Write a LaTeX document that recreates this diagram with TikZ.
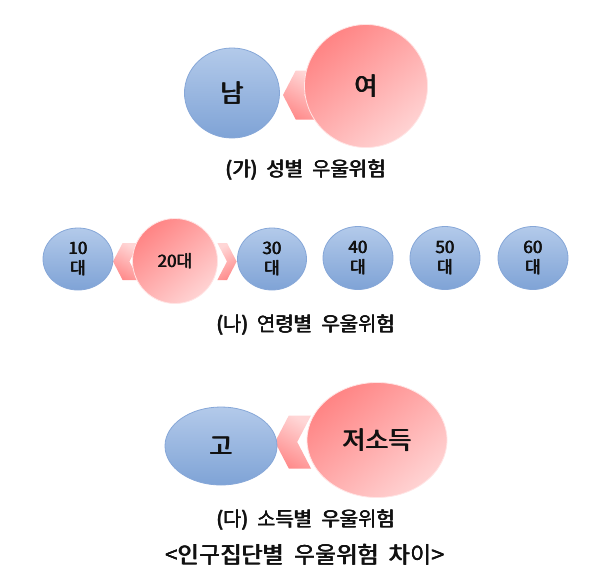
\documentclass[tikz,border=0pt]{standalone}
\usepackage{fontspec}
\newfontfamily\kr{Noto Sans CJK KR}
\newcommand{\thick}[2][0.7pt]{\leavevmode\rlap{\kern#1#2}\rlap{\kern0.5\dimexpr#1\relax\raisebox{0.35pt}{#2}}#2\kern#1}
\usetikzlibrary{shapes.geometric,shapes.symbols}
\definecolor{bluetop}{HTML}{B3CAEA}
\definecolor{bluebot}{HTML}{7FA3D6}
\definecolor{blueline}{HTML}{86A7D8}
\definecolor{reddark}{HTML}{FF8484}
\definecolor{redlight}{HTML}{FFD3D3}
\definecolor{chevlight}{HTML}{FFD6D6}
\definecolor{chevdark}{HTML}{FF8C8C}
\definecolor{txt}{HTML}{111111}
\tikzset{
  bluebub/.style={ellipse, draw=blueline, line width=0.8pt, top color=bluetop, bottom color=bluebot, inner sep=0pt, text=txt, font=\kr, align=center},
  redbub/.style={ellipse, draw=redlight!60!white, line width=0.8pt, top color=reddark, bottom color=redlight, shading angle=40, inner sep=0pt, text=txt, font=\kr, align=center},
  chevL/.style={signal, signal to=west, signal from=east, draw=none, top color=chevlight, bottom color=chevdark, shading angle=-30, inner sep=0pt},
  chevR/.style={signal, signal to=east, signal from=west, draw=none, top color=chevlight, bottom color=chevdark, shading angle=30, inner sep=0pt},
  captext/.style={text=txt, font=\kr, inner sep=0pt}
}
\begin{document}
\begin{tikzpicture}[x=1pt,y=-1pt]
\useasboundingbox[fill=white] (0,0) rectangle (604,584);
% section 1
\node[chevL, minimum width=34pt, minimum height=49pt, signal pointer angle=125] (c1) at (300,95) {};
\node[bluebub, minimum width=95pt, minimum height=90pt, font=\kr\fontsize{25}{28}\selectfont] (nam) at (232,93) {\thick[1pt]{남}};
\node[redbub, minimum width=123pt, minimum height=123pt, font=\kr\fontsize{25}{28}\selectfont] (yeo) at (366,86) {\thick[1pt]{여}};
\node[captext, font=\kr\fontsize{20}{22}\selectfont] (cap1) at (306,170) {\thick[0.8pt]{(가)\ \ 성별\ \ 우울위험}};
% section 2
\node[chevL, minimum width=26pt, minimum height=37pt, signal pointer angle=125] (c2) at (126,261.5) {};
\node[chevR, minimum width=18pt, minimum height=37pt, signal pointer angle=125] (c3) at (227,261.5) {};
\node[bluebub, minimum width=70pt, minimum height=62pt, font=\kr\fontsize{17}{20}\selectfont] (a10) at (78,259) {\thick{10}\\\thick{대}};
\node[redbub, minimum width=85pt, minimum height=85pt, font=\kr\fontsize{17}{20}\selectfont] (a20) at (175,261) {\thick{20대}};
\node[bluebub, minimum width=69pt, minimum height=62pt, font=\kr\fontsize{17}{20}\selectfont] (a30) at (272,259) {\thick{30}\\\thick{대}};
\node[bluebub, minimum width=70pt, minimum height=63pt, font=\kr\fontsize{17}{20}\selectfont] (a40) at (358,258) {\thick{40}\\\thick{대}};
\node[bluebub, minimum width=70pt, minimum height=63pt, font=\kr\fontsize{17}{20}\selectfont] (a50) at (445,258) {\thick{50}\\\thick{대}};
\node[bluebub, minimum width=70pt, minimum height=63pt, font=\kr\fontsize{17}{20}\selectfont] (a60) at (533,258) {\thick{60}\\\thick{대}};
\node[captext, font=\kr\fontsize{20}{22}\selectfont] (cap2) at (306,325) {\thick[0.8pt]{(나)\ \ 연령별\ \ 우울위험}};
% section 3
\node[chevL, minimum width=36pt, minimum height=53pt, signal pointer angle=125] (c4) at (293,442) {};
\node[bluebub, minimum width=112pt, minimum height=78pt, font=\kr\fontsize{25}{28}\selectfont] (go) at (221,446) {\thick[1pt]{고}};
\node[redbub, minimum width=140pt, minimum height=115pt, font=\kr\fontsize{25}{28}\selectfont] (jeo) at (377,440) {\thick[1pt]{저소득}};
\node[captext, font=\kr\fontsize{20}{22}\selectfont] (cap3) at (306,520) {\thick[0.8pt]{(다)\ \ 소득별\ \ 우울위험}};
\node[captext, font=\kr\fontsize{23}{25}\selectfont] (title) at (305,555) {\thick[0.8pt]{<인구집단별\ \ 우울위험\ \ 차이>}};
\end{tikzpicture}
\end{document}
